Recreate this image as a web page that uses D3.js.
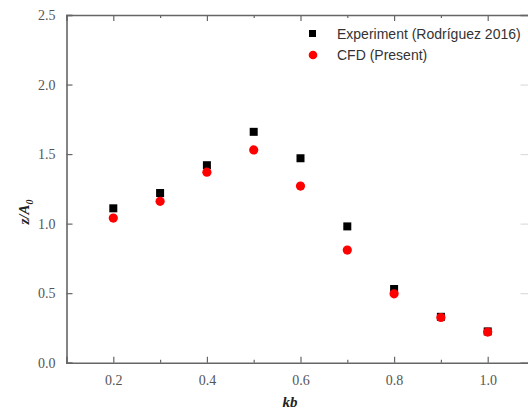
<!DOCTYPE html>
<html>
<head>
<style>
    body { margin: 0; background: #fff; }
    .tick text { font-family: "Liberation Serif", "Times New Roman", serif; font-size: 14px; fill: #555; }
    .axis path, .axis line { stroke: #666; }
    .legend text { font-family: "Liberation Sans", Arial, sans-serif; font-size: 14px; fill: #333; }
</style>
</head>
<body>
<script src="https://cdn.jsdelivr.net/npm/d3@7"></script>
<script>
    var kb = [0.2, 0.3, 0.4, 0.5, 0.6, 0.7, 0.8, 0.9, 1.0];
    var experiment = [1.11, 1.22, 1.42, 1.66, 1.47, 0.98, 0.53, 0.33, 0.225];
    var cfd = [1.04, 1.16, 1.37, 1.53, 1.27, 0.81, 0.495, 0.325, 0.22];
    var xTicks = [0.2, 0.4, 0.6, 0.8, 1.0];
    var xMinor = [0.3, 0.5, 0.7, 0.9];
    var yTicks = [0.0, 0.5, 1.0, 1.5, 2.0, 2.5];
    var seriesNames = ["Experiment (Rodríguez 2016)", "CFD (Present)"];

    var width = 528, height = 416;
    var svg = d3.select("body").append("svg")
        .attr("width", width)
        .attr("height", height);

    var x = d3.scaleLinear().domain([0.1, 1.1]).range([66.5, 534.5]);
    var y = d3.scaleLinear().domain([0, 2.5]).range([362.7, 15]);

    // bottom axis
    svg.append("g").attr("class", "axis")
        .attr("transform", "translate(0," + y(0) + ")")
        .call(d3.axisBottom(x).tickValues(xTicks).tickFormat(d3.format(".1f")).tickSize(-6).tickPadding(12));
    svg.append("g").attr("class", "axis")
        .attr("transform", "translate(0," + y(0) + ")")
        .call(d3.axisBottom(x).tickValues(xMinor).tickFormat("").tickSize(-3))
        .select(".domain").remove();

    // top axis
    svg.append("g").attr("class", "axis")
        .attr("transform", "translate(0," + y(2.5) + ")")
        .call(d3.axisTop(x).tickValues(xTicks).tickFormat("").tickSize(-6));
    svg.append("g").attr("class", "axis")
        .attr("transform", "translate(0," + y(2.5) + ")")
        .call(d3.axisTop(x).tickValues(xMinor).tickFormat("").tickSize(-3))
        .select(".domain").remove();

    // left axis
    svg.append("g").attr("class", "axis")
        .attr("transform", "translate(" + x(0.1) + ",0)")
        .call(d3.axisLeft(y).tickValues(yTicks).tickFormat(d3.format(".1f")).tickSize(-6).tickPadding(11));

    // right axis (mostly off the page)
    svg.append("g").attr("class", "axis right")
        .attr("transform", "translate(" + x(1.1) + ",0)")
        .call(d3.axisRight(y).tickValues(yTicks.slice(1, 5)).tickFormat("").tickSize(-14));
    svg.selectAll(".right line").style("stroke", "#ddd");

    svg.selectAll(".axis .domain").style("stroke-width", 1.6);
    svg.selectAll(".axis line").style("stroke-width", 1.2);

    // experiment squares
    svg.append("g").selectAll("rect")
        .data(kb)
        .enter().append("rect")
        .attr("x", function (d) { return x(d) - 4; })
        .attr("y", function (d, i) { return y(experiment[i]) - 4; })
        .attr("width", 8)
        .attr("height", 8)
        .attr("fill", "#000");

    // cfd circles
    svg.append("g").selectAll("circle")
        .data(kb)
        .enter().append("circle")
        .attr("cx", function (d) { return x(d); })
        .attr("cy", function (d, i) { return y(cfd[i]); })
        .attr("r", 4.6)
        .attr("fill", "#f00");

    // legend
    var legend = svg.append("g").attr("class", "legend");
    legend.append("rect").attr("x", 309).attr("y", 30).attr("width", 7).attr("height", 7).attr("fill", "#000");
    legend.append("circle").attr("cx", 313).attr("cy", 55).attr("r", 4.3).attr("fill", "#f00");
    legend.append("text").attr("x", 337).attr("y", 39).text(seriesNames[0]);
    legend.append("text").attr("x", 337).attr("y", 60).text(seriesNames[1]);

    // axis titles
    svg.append("text")
        .attr("x", 290).attr("y", 407)
        .attr("text-anchor", "middle")
        .style("font-family", "Liberation Serif, serif")
        .style("font-size", "15px")
        .style("font-weight", "bold")
        .style("font-style", "italic")
        .style("fill", "#222")
        .text("kb");

    var yt = svg.append("text")
        .attr("transform", "translate(29,212) rotate(-90)")
        .attr("text-anchor", "middle")
        .style("font-family", "Liberation Serif, serif")
        .style("font-size", "15px")
        .style("font-weight", "bold")
        .style("font-style", "italic")
        .style("fill", "#222");
    yt.append("tspan").text("z/A");
    yt.append("tspan").attr("dy", 4).style("font-size", "10px").text("0");
</script>
</body>
</html>
